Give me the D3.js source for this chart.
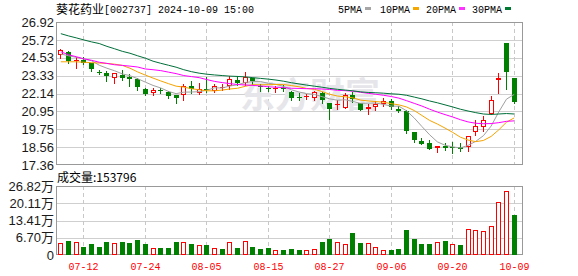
<!DOCTYPE html>
<html>
<head>
<meta charset="utf-8">
<script src="https://d3js.org/d3.v7.min.js"></script>
<style>
  body { margin: 0; background: #fff; }
  svg { display: block; }
  .ylab { font-family: "Liberation Sans", Arial, "Noto Sans CJK SC", sans-serif; font-size: 13px; fill: #1a1a1a; }
  .xlab { font-family: "Liberation Mono", monospace; font-size: 10px; fill: #ff0000; }
  .mono { font-family: "Liberation Mono", monospace; font-size: 10px; fill: #000; }
  .cjk { font-family: "Noto Sans CJK SC", sans-serif; font-size: 12px; fill: #000; }
</style>
</head>
<body>
<svg width="578" height="276"></svg>
<script>
// trading days shown (MM-DD)
const dates = ["07-09","07-10","07-11","07-12","07-15","07-16","07-17","07-18","07-19","07-22",
  "07-23","07-24","07-25","07-26","07-29","07-30","07-31","08-01","08-02","08-05",
  "08-06","08-07","08-08","08-09","08-12","08-13","08-14","08-15","08-16","08-19",
  "08-20","08-21","08-22","08-23","08-26","08-27","08-28","08-29","08-30","09-02",
  "09-03","09-04","09-05","09-06","09-09","09-10","09-11","09-12","09-13","09-18",
  "09-19","09-20","09-23","09-24","09-25","09-26","09-27","09-30","10-08","10-09"];

const open = [24.70,24.93,24.33,24.38,24.16,23.58,23.53,23.17,23.36,23.22,
  23.10,22.47,22.17,22.37,22.23,22.01,22.01,22.66,22.19,22.45,
  22.34,22.55,22.62,23.04,22.82,23.17,22.62,22.54,22.47,22.51,
  22.27,21.93,21.93,21.81,22.16,21.48,21.38,21.16,22.07,21.48,
  21.11,21.24,21.44,21.64,21.10,20.99,19.54,18.95,18.80,18.48,
  18.62,18.54,18.56,18.56,19.57,19.93,20.76,23.05,25.51,23.18];
const high = [25.13,24.99,24.55,24.55,24.20,23.71,23.62,23.53,23.71,23.47,
  23.18,22.54,22.51,22.52,22.32,22.04,22.80,22.96,22.85,23.24,
  22.77,22.78,23.30,23.29,23.60,23.20,22.76,22.67,22.65,22.74,
  22.34,22.16,22.14,22.34,22.23,21.51,21.68,22.17,22.23,21.51,
  21.41,21.66,21.84,21.78,21.31,21.01,19.55,19.15,19.02,18.62,
  18.85,18.91,18.82,19.32,20.39,20.61,21.94,23.53,25.51,23.18];
const low = [24.50,24.15,23.85,24.09,23.63,23.43,22.96,22.82,23.02,22.67,
  22.39,22.05,22.04,22.17,21.87,21.51,21.72,22.19,22.12,22.24,
  22.24,22.36,22.47,22.72,22.70,22.80,22.34,22.31,22.21,22.34,
  21.68,21.68,21.74,21.72,21.48,20.46,21.12,21.14,21.58,21.01,
  20.79,21.04,21.31,21.08,20.90,19.48,18.89,18.75,18.44,18.24,
  18.36,18.16,18.32,18.29,19.35,19.62,20.75,22.16,22.47,21.51];
const close = [25.06,24.28,24.38,24.18,23.77,23.55,23.29,23.51,23.15,23.14,
  22.58,22.14,22.37,22.34,21.95,21.84,22.64,22.42,22.45,22.43,
  22.65,22.58,23.09,22.84,23.22,22.96,22.59,22.51,22.52,22.47,
  21.87,21.85,21.95,22.27,21.71,21.11,21.42,22.07,21.74,21.04,
  21.22,21.44,21.61,21.21,20.98,19.65,19.05,18.77,18.44,18.62,
  18.50,18.52,18.44,19.29,19.95,20.39,21.73,23.18,23.55,21.56];
const volume = [46600,55600,50500,31100,42800,31100,50500,46600,50500,46600,
  58300,42800,27200,27200,27200,50500,50500,42800,38900,38900,
  27200,23300,50500,27200,54400,31100,23300,27200,19400,19400,
  23300,19400,19400,23300,50500,62200,50500,42800,85500,46600,
  46600,31100,19400,19400,23300,97200,62200,42800,42800,50500,
  54400,42800,38900,101000,97200,93300,112700,206000,248800,153796];

const ma5 = [24.78,24.66,24.56,24.44,24.33,24.03,23.83,23.66,23.45,23.33,
  23.13,22.90,22.68,22.51,22.28,22.13,22.23,22.24,22.26,22.36,
  22.52,22.51,22.64,22.72,22.88,22.94,22.94,22.82,22.76,22.61,
  22.39,22.24,22.13,22.08,21.93,21.78,21.69,21.72,21.61,21.48,
  21.50,21.50,21.41,21.30,21.29,20.98,20.50,19.93,19.38,18.91,
  18.68,18.57,18.50,18.67,18.94,19.32,19.96,20.91,21.76,22.08];
const ma10 = [24.26,24.26,24.26,24.23,24.20,24.18,24.15,24.10,24.02,23.83,
  23.58,23.37,23.17,22.98,22.80,22.63,22.57,22.46,22.39,22.32,
  22.32,22.37,22.44,22.49,22.62,22.73,22.72,22.73,22.74,22.74,
  22.67,22.59,22.48,22.42,22.27,22.09,21.97,21.92,21.85,21.70,
  21.64,21.60,21.56,21.46,21.38,21.24,21.00,20.67,20.34,20.10,
  19.83,19.54,19.22,19.03,18.92,19.00,19.27,19.71,20.22,20.51];
const ma20 = [24.93,24.73,24.60,24.46,24.36,24.23,24.15,24.06,24.02,23.97,
  23.91,23.78,23.73,23.67,23.57,23.47,23.34,23.27,23.20,23.07,
  22.95,22.87,22.80,22.74,22.71,22.68,22.64,22.59,22.56,22.53,
  22.49,22.48,22.46,22.46,22.44,22.41,22.35,22.33,22.29,22.22,
  22.15,22.09,22.02,21.94,21.83,21.66,21.48,21.30,21.09,20.90,
  20.73,20.57,20.39,20.24,20.15,20.12,20.13,20.19,20.28,20.31];
const ma30 = [26.14,25.99,25.86,25.72,25.59,25.48,25.29,25.13,24.96,24.83,
  24.66,24.50,24.30,24.16,24.03,23.90,23.73,23.60,23.50,23.43,
  23.38,23.34,23.30,23.28,23.25,23.20,23.15,23.10,23.04,22.96,
  22.86,22.78,22.70,22.63,22.56,22.48,22.42,22.37,22.32,22.25,
  22.21,22.19,22.16,22.12,22.09,22.02,21.90,21.78,21.64,21.52,
  21.38,21.24,21.09,20.97,20.86,20.77,20.74,20.77,20.80,20.77];

const priceTicks = [17.36, 18.56, 19.75, 20.95, 22.14, 23.33, 24.53, 25.72, 26.92];
const volTicks = [0, 67000, 134100, 201100, 268200];
const volTickLabels = ["0", "6.70万", "13.41万", "20.11万", "26.82万"];
const dateTicks = ["07-12", "07-24", "08-05", "08-15", "08-27", "09-06", "09-20", "10-09"];

const maNames = ["5PMA", "10PMA", "20PMA", "30PMA"];
const maColors = ["#a0a0a0", "#f5a300", "#ff00ff", "#006f3a"];
const legendColors = ["#a6a6a6", "#f5a700", "#ff33ff", "#007a33"];

const RED = "#ff0000", GREEN = "#008000";
const left = 57, right = 522;

const svg = d3.select("svg");

const x = d3.scaleBand().domain(dates).range([left, 518]);
const px = d => Math.round(x(d) + x.bandwidth() / 2 - 0.5);
const y = d3.scaleLinear().domain([17.36, 26.92]).range([165, 22]);
const yv = d3.scaleLinear().domain([0, 268200]).range([255, 186]);

// ---- grids ----
const grid = svg.append("g");
priceTicks.slice(1, -1).forEach(t => {
  const yy = Math.round(y(t)) + 0.5;
  grid.append("line").attr("x1", left).attr("x2", right).attr("y1", yy).attr("y2", yy)
    .attr("stroke", "#cfcfcf");
});
volTicks.slice(1, -1).forEach(t => {
  const yy = Math.round(yv(t)) + 0.5;
  grid.append("line").attr("x1", left).attr("x2", right).attr("y1", yy).attr("y2", yy)
    .attr("stroke", "#cfcfcf");
});
dateTicks.forEach(d => {
  const xx = px(d) + 0.5;
  [[22, 165], [186, 255]].forEach(r => {
    grid.append("line").attr("x1", xx).attr("x2", xx).attr("y1", r[0]).attr("y2", r[1])
      .attr("stroke", "#c8c8c8").attr("stroke-dasharray", "4,3");
  });
});

// watermark
svg.append("text").attr("x", 240).attr("y", 108)
  .style("font-family", "'Noto Sans CJK SC', sans-serif").style("font-size", "35px")
  .style("font-weight", "bold").style("fill", "#e6e6ea")
  .text("东方财富");

// frames
svg.append("rect").attr("x", left - 0.5).attr("y", 22.5).attr("width", right - left + 1).attr("height", 142)
  .attr("fill", "none").attr("stroke", "#999");
svg.append("rect").attr("x", left - 0.5).attr("y", 186.5).attr("width", right - left + 1).attr("height", 68)
  .attr("fill", "none").attr("stroke", "#999");

// ---- candles ----
function candleUp(i) {
  if (close[i] !== open[i]) return close[i] > open[i];
  return i === 0 ? true : close[i] >= close[i - 1];
}
function volUp(i) {
  return i === 0 ? close[i] >= open[i] : close[i] >= close[i - 1];
}

const cg = svg.append("g");
dates.forEach((d, i) => {
  const p = px(d);
  const up = candleUp(i);
  const col = up ? RED : GREEN;
  const top = Math.round(y(Math.max(open[i], close[i])));
  const bot = Math.round(y(Math.min(open[i], close[i])));
  cg.append("line").attr("x1", p + 0.5).attr("x2", p + 0.5)
    .attr("y1", Math.round(y(high[i]))).attr("y2", Math.round(y(low[i])) + 1)
    .attr("stroke", col);
  if (bot - top < 2) {
    cg.append("line").attr("x1", p - 2).attr("x2", p + 3)
      .attr("y1", top + 0.5).attr("y2", top + 0.5).attr("stroke", col);
  } else if (up) {
    cg.append("rect").attr("x", p - 1.5).attr("y", top + 0.5)
      .attr("width", 4).attr("height", bot - top - 1)
      .attr("fill", "#fff").attr("stroke", col);
  } else {
    cg.append("rect").attr("x", p - 2).attr("y", top)
      .attr("width", 5).attr("height", bot - top).attr("fill", col);
  }
});

// ---- moving averages ----
[ma5, ma10, ma20, ma30].forEach((arr, k) => {
  svg.append("path")
    .datum(arr)
    .attr("fill", "none")
    .attr("stroke", maColors[k])
    .attr("stroke-width", 1)
    .attr("d", d3.line().x((v, i) => x(dates[i]) + x.bandwidth() / 2).y(v => y(v)));
});

// ---- volume ----
const vg = svg.append("g");
dates.forEach((d, i) => {
  const p = px(d);
  const t = Math.round(yv(volume[i]));
  if (volUp(i)) {
    vg.append("rect").attr("x", p - 1.5).attr("y", t + 0.5)
      .attr("width", 4).attr("height", 255 - t - 1)
      .attr("fill", "#fff").attr("stroke", RED);
  } else {
    vg.append("rect").attr("x", p - 2).attr("y", t)
      .attr("width", 5).attr("height", 255 - t).attr("fill", GREEN);
  }
});

// ---- axis labels ----
svg.selectAll(".py").data(priceTicks).enter().append("text")
  .attr("class", "ylab").attr("x", 54).attr("y", d => y(d)).attr("dy", "0.36em")
  .attr("text-anchor", "end").text(d => d.toFixed(2));
svg.selectAll(".vy").data(volTicks).enter().append("text")
  .attr("class", "ylab").attr("x", 54).attr("y", d => yv(d)).attr("dy", "0.36em")
  .attr("text-anchor", "end").text((d, i) => volTickLabels[i]);
svg.selectAll(".xl").data(dateTicks).enter().append("text")
  .attr("class", "xlab").attr("x", d => px(d) + 0.5).attr("y", 270)
  .attr("text-anchor", "middle").text(d => d);

// ---- header ----
const title = svg.append("text").attr("x", 56).attr("y", 14);
title.append("tspan").attr("class", "cjk").text("葵花药业");
title.append("tspan").attr("class", "mono").attr("dy", -1).text("[002737] 2024-10-09 15:00");

const legendX = [338, 380, 426, 472];
maNames.forEach((n, k) => {
  svg.append("text").attr("class", "mono").attr("x", legendX[k]).attr("y", 13).text(n);
  svg.append("rect").attr("x", legendX[k] + n.length * 6 + 3).attr("y", 7)
    .attr("width", 6).attr("height", 3).attr("fill", legendColors[k]);
});

const vt = svg.append("text").attr("x", 57).attr("y", 182);
vt.append("tspan").attr("class", "cjk").text("成交量");
vt.append("tspan").attr("class", "cjk").text(":" + volume[volume.length - 1]);
</script>
</body>
</html>
